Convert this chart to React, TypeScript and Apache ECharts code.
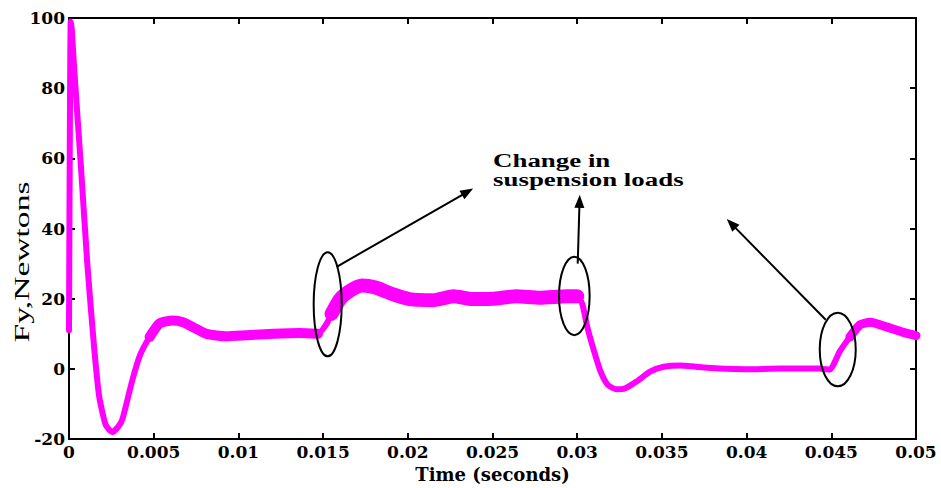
import React, { useEffect, useRef } from "react";
import * as echarts from "echarts";

// Time (s) and lateral force Fy (N) (band centre)
const timeS = [
  0, 0.0001, 0.00016, 0.0003, 0.0007, 0.00108, 0.00148, 0.00178, 0.00217, 0.00256,
  0.0029, 0.00315, 0.00375, 0.0042, 0.00476, 0.00535, 0.00614, 0.00673, 0.00732, 0.00811,
  0.0093, 0.01047, 0.01205, 0.01362, 0.0147, 0.0152, 0.0155, 0.016, 0.0166, 0.0173,
  0.0181, 0.0191, 0.0201, 0.0215, 0.0227, 0.0238, 0.025, 0.0264, 0.0278, 0.0294,
  0.03, 0.0303, 0.0306, 0.031, 0.0314, 0.0318, 0.0323, 0.0328, 0.0335, 0.0343,
  0.0351, 0.0361, 0.037, 0.0384, 0.04, 0.042, 0.0443, 0.0449, 0.0455, 0.0461,
  0.0467, 0.0473, 0.0483, 0.0492, 0.05,
];
const forceN = [
  11, 99, 97, 86, 58, 30, 6.3, -7.8, -16, -18,
  -16.5, -14.4, -3, 4, 9.1, 13, 13.8, 13.3, 11.9, 10,
  9.3, 9.6, 10, 10.2, 10, 12.8, 15.7, 19.9, 22.3, 23.8,
  23.2, 21.3, 19.9, 19.6, 20.7, 19.9, 20, 20.7, 20.3, 20.7,
  20.7, 18.5, 11.9, 5.0, -1.0, -4.5, -5.8, -5.6, -3.6, -0.8,
  0.6, 1.0, 0.6, 0.1, -0.1, 0.1, 0.1, -0.2, 5.0, 9.1,
  12.6, 13.3, 11.9, 10.5, 9.5,
];

const xMin = 0;
const xMax = 0.05;
const xStep = 0.005;
const yMin = -20;
const yMax = 100;
const yStep = 20;

const xTitle = "Time (seconds)";
const yTitle = "Fy,Newtons";
const noteLines = ["Change in", "suspension loads"];

// annotation anchors in data units [time, force]
const ellipseCentres = [
  [0.01527, 18.4],
  [0.02983, 20.8],
  [0.04538, 5.55],
];
const arrowFrom = [
  [0.0158, 29.1],
  [0.03003, 30.0],
  [0.04467, 14.0],
];
const arrowTo = [
  [0.02386, 51.4],
  [0.03015, 49.6],
  [0.03883, 42.7],
];
const noteAnchor = [0.02503, 59.5, 53.9];

export default function App() {
  const ref = useRef<HTMLDivElement>(null);
  useEffect(() => {
    if (!ref.current) return;
    const chart = echarts.init(ref.current, null, { renderer: "svg" });
    const pts = timeS.map((t, i) => [t, forceN[i]]);
    const seg = (a: number, b: number) => pts.filter((p) => p[0] >= a && p[0] <= b);
    const magenta = "#ff00ff";
    const axisFont = {
      fontFamily: "DejaVu Serif",
      fontWeight: "bold" as const,
      fontSize: 17,
      color: "#000",
    };
    const lineS = { color: "#000", width: 2 };
    const mkX = (pos: "bottom" | "top", labels: boolean) => ({
      type: "value" as const,
      min: xMin,
      max: xMax,
      interval: xStep,
      position: pos,
      axisLine: { show: true, onZero: false, lineStyle: lineS },
      axisTick: { show: true, inside: true, length: 6, lineStyle: lineS },
      axisLabel: labels
        ? { ...axisFont, margin: 4, formatter: (v: number) => String(+v.toFixed(3)) }
        : { show: false },
      splitLine: { show: false },
      ...(labels
        ? {
            name: xTitle,
            nameLocation: "middle" as const,
            nameGap: 24,
            nameTextStyle: { ...axisFont, fontSize: 18 },
          }
        : {}),
    });
    const mkY = (pos: "left" | "right", labels: boolean) => ({
      type: "value" as const,
      min: yMin,
      max: yMax,
      interval: yStep,
      position: pos,
      axisLine: { show: true, onZero: false, lineStyle: lineS },
      axisTick: { show: true, inside: true, length: 6, lineStyle: lineS },
      axisLabel: labels ? { ...axisFont, margin: 4 } : { show: false },
      splitLine: { show: false },
    });
    const lineSeries = (data: number[][], width: number) => ({
      type: "line" as const,
      data,
      showSymbol: false,
      symbol: "none",
      smooth: 0.2,
      lineStyle: { color: magenta, width, join: "round" as const, cap: "round" as const },
      xAxisIndex: 0,
      yAxisIndex: 0,
      silent: true,
    });
    chart.setOption({
      animation: false,
      backgroundColor: "#fff",
      grid: { left: 69, top: 18, width: 847, height: 425, show: false },
      xAxis: [mkX("bottom", true), mkX("top", false)],
      yAxis: [mkY("left", true), mkY("right", false)],
      series: [
        lineSeries(pts, 6),
        lineSeries(seg(0.0045, 0.0148), 10),
        lineSeries(seg(0.0155, 0.0302), 14),
        lineSeries(seg(0.046, 0.05), 9),
      ],
    });

    const px = (p: number[]) => chart.convertToPixel({ seriesIndex: 0 }, p) as number[];
    const ellipseR = [
      [14, 52],
      [15.3, 39.2],
      [18, 36.8],
    ];
    const graphics: any[] = [];
    ellipseCentres.forEach((c, i) => {
      const [cx, cy] = px(c);
      graphics.push({
        type: "ellipse",
        z: 100,
        shape: { cx, cy, rx: ellipseR[i][0], ry: ellipseR[i][1] },
        style: { fill: "none", stroke: "#000", lineWidth: 2 },
      });
    });
    arrowFrom.forEach((f, i) => {
      const [x1, y1] = px(f);
      const [x2, y2] = px(arrowTo[i]);
      const len = Math.hypot(x2 - x1, y2 - y1);
      const dx = (x2 - x1) / len;
      const dy = (y2 - y1) / len;
      const L = 13;
      const W = 5;
      const bx = x2 - dx * L;
      const by = y2 - dy * L;
      graphics.push({
        type: "line",
        z: 100,
        shape: { x1, y1, x2: bx + dx * 2, y2: by + dy * 2 },
        style: { stroke: "#000", lineWidth: 2 },
      });
      graphics.push({
        type: "polygon",
        z: 100,
        shape: {
          points: [
            [x2, y2],
            [bx - dy * W, by + dx * W],
            [bx + dy * W, by - dx * W],
          ],
        },
        style: { fill: "#000" },
      });
    });
    noteLines.forEach((txt, i) => {
      const [x, y] = px([noteAnchor[0], noteAnchor[1 + i]]);
      graphics.push({
        type: "text",
        z: 100,
        x,
        y,
        scaleX: 1.38,
        style: {
          text: txt,
          font: 'bold 19.5px "Liberation Serif"',
          fill: "#000",
          textAlign: "left",
          textVerticalAlign: "middle",
        },
      });
    });
    graphics.push({
      type: "text",
      z: 100,
      x: 22,
      y: 262,
      rotation: Math.PI / 2,
      scaleX: 1.68,
      style: {
        text: yTitle,
        font: '20px "Liberation Serif"',
        fill: "#000",
        textAlign: "center",
        textVerticalAlign: "middle",
      },
    });
    chart.setOption({ graphic: graphics });
    return () => chart.dispose();
  }, []);
  return (
    <div
      ref={ref}
      style={{ position: "fixed", left: 0, top: 0, width: 941, height: 488, background: "#fff" }}
    />
  );
}
